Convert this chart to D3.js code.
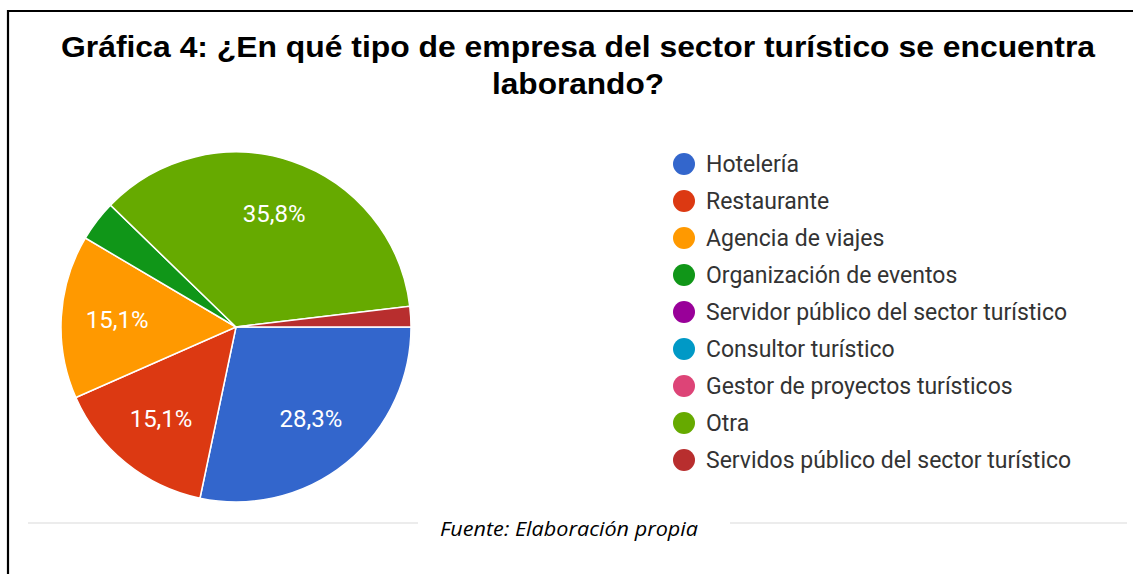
<!DOCTYPE html>
<html>
<head>
<meta charset="utf-8">
<script src="https://cdn.jsdelivr.net/npm/d3@7"></script>
<style>
  body { margin: 0; background: #fff; }
  svg { display: block; }
</style>
</head>
<body>
<svg id="chart" width="1133" height="574"></svg>
<script>
const categories = [
    "Hotelería",
    "Restaurante",
    "Agencia de viajes",
    "Organización de eventos",
    "Servidor público del sector turístico",
    "Consultor turístico",
    "Gestor de proyectos turísticos",
    "Otra",
    "Servidos público del sector turístico"
];
// responses per category (n = 53)
const counts = [15, 8, 8, 2, 0, 0, 0, 19, 1];
const colors = ["#3366cc", "#dc3912", "#ff9900", "#109618", "#990099",
                "#0099c6", "#dd4477", "#66aa00", "#b82e2e"];
const titleLines = [
    "Gráfica 4: ¿En qué tipo de empresa del sector turístico se encuentra",
    "laborando?"
];
const titleWidths = [1034, 172];
const sourceText = "Fuente: Elaboración propia";

const svg = d3.select("#chart");
const width = 1133;

// frame (image is cropped, only top and left edges show)
svg.append("line").attr("x1", 7).attr("x2", width).attr("y1", 11).attr("y2", 11)
    .attr("stroke", "#000").attr("stroke-width", 2.2);
svg.append("line").attr("x1", 8).attr("x2", 8).attr("y1", 10).attr("y2", 574)
    .attr("stroke", "#000").attr("stroke-width", 2.2);

// title
svg.append("g").selectAll("text")
    .data(titleLines)
    .enter()
    .append("text")
    .attr("x", 578)
    .attr("y", (d, i) => 57 + i * 37)
    .attr("text-anchor", "middle")
    .attr("font-family", "Liberation Sans, Arial, sans-serif")
    .attr("font-weight", "bold")
    .attr("font-size", "29px")
    .attr("textLength", (d, i) => titleWidths[i])
    .attr("lengthAdjust", "spacingAndGlyphs")
    .attr("fill", "#000")
    .text(d => d);

// pie
const cx = 236, cy = 327, radius = 175;
const total = d3.sum(counts);
const data = categories.map((c, i) => ({ name: c, value: counts[i], color: colors[i] }));

const pie = d3.pie()
    .value(d => d.value)
    .sort(null)
    .startAngle(Math.PI / 2)
    .endAngle(Math.PI / 2 + 2 * Math.PI);

const arc = d3.arc().innerRadius(0).outerRadius(radius);
const labelArc = d3.arc().innerRadius(radius * 0.68).outerRadius(radius * 0.68);

const pieG = svg.append("g").attr("transform", `translate(${cx}, ${cy})`);
const slices = pie(data).filter(d => d.data.value > 0);

pieG.selectAll("path")
    .data(slices)
    .enter()
    .append("path")
    .attr("d", arc)
    .attr("fill", d => d.data.color)
    .attr("stroke", "#fff")
    .attr("stroke-width", 1.5);

const fmt = v => (v * 100).toFixed(1).replace(".", ",") + "%";

pieG.selectAll(".slice-label")
    .data(slices.filter(d => d.data.value / total > 0.05))
    .enter()
    .append("text")
    .attr("class", "slice-label")
    .attr("transform", d => `translate(${labelArc.centroid(d)})`)
    .attr("text-anchor", "middle")
    .attr("dominant-baseline", "central")
    .attr("font-family", "Roboto, Arial, sans-serif")
    .attr("font-size", "24px")
    .attr("fill", "#fff")
    .text(d => fmt(d.data.value / total));

// legend
const legend = svg.append("g").attr("transform", "translate(684, 164)");
const items = legend.selectAll("g")
    .data(data)
    .enter()
    .append("g")
    .attr("transform", (d, i) => `translate(0, ${i * 37})`);

items.append("circle")
    .attr("r", 11)
    .attr("fill", d => d.color);

items.append("text")
    .attr("x", 22)
    .attr("dominant-baseline", "central")
    .attr("font-family", "Roboto, Arial, sans-serif")
    .attr("font-size", "23px")
    .attr("fill", "#333")
    .text(d => d.name);

// source note with rule
svg.append("line").attr("x1", 28).attr("x2", 418).attr("y1", 523).attr("y2", 523)
    .attr("stroke", "#ececec").attr("stroke-width", 2);
svg.append("line").attr("x1", 730).attr("x2", 1127).attr("y1", 523).attr("y2", 523)
    .attr("stroke", "#ececec").attr("stroke-width", 2);
svg.append("text")
    .attr("x", 569)
    .attr("y", 536)
    .attr("text-anchor", "middle")
    .attr("font-family", "Open Sans, sans-serif")
    .attr("font-style", "italic")
    .attr("font-size", "20px")
    .attr("textLength", 258)
    .attr("lengthAdjust", "spacingAndGlyphs")
    .attr("fill", "#000")
    .text(sourceText);
</script>
</body>
</html>
